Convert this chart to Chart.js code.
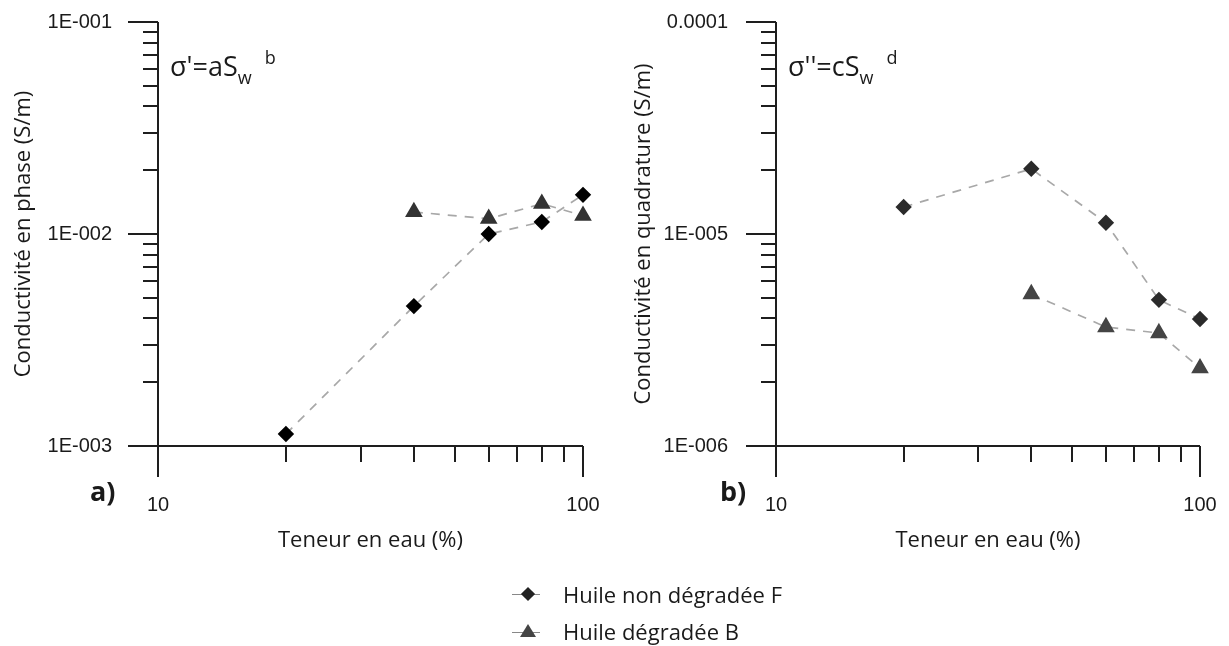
<!DOCTYPE html>
<html>
<head>
<meta charset="utf-8">
<script src="https://cdn.jsdelivr.net/npm/chart.js@4"></script>
<style>
  body { margin: 0; background: #fff; }
  #wrap { position: relative; width: 1229px; height: 646px; overflow: hidden; font-family: 'Open Sans', sans-serif; color: #1a1a1a; }
  canvas { position: absolute; top: 0; }
  .eq { position: absolute; top: 52px; font-size: 27px; line-height: 27px; white-space: nowrap; }
  .eq .sub { font-size: 18px; position: relative; top: 8px; }
  .eq .sup { font-size: 18px; position: relative; top: -12px; margin-left: 13px; }
  .panel { position: absolute; top: 477px; font-weight: bold; font-size: 27px; line-height: 27px; }
  .leg { position: absolute; left: 563px; font-size: 22px; line-height: 22px; white-space: nowrap; }
  .legline { position: absolute; left: 512px; width: 28px; height: 0; border-top: 1.5px solid #888; }
  .diamond { position: absolute; left: 523px; width: 10px; height: 10px; background: #222; transform: rotate(45deg); }
  .tri { position: absolute; left: 520px; width: 0; height: 0; border-left: 8px solid transparent; border-right: 8px solid transparent; border-bottom: 13px solid #444; }
</style>
</head>
<body>
<div id="wrap">
  <canvas id="chartA" width="615" height="600" style="left:0"></canvas>
  <canvas id="chartB" width="614" height="600" style="left:615px"></canvas>
  <div class="eq" style="left:170px">σ'=aS<span class="sub">w</span><span class="sup">b</span></div>
  <div class="eq" style="left:788px">σ''=cS<span class="sub">w</span><span class="sup">d</span></div>
  <div class="panel" style="left:90px">a)</div>
  <div class="panel" style="left:720px">b)</div>

  <div class="legline" style="top:594px"></div>
  <div class="diamond" style="top:589px"></div>
  <div class="leg" id="leg0" style="top:583px"></div>
  <div class="legline" style="top:632px"></div>
  <div class="tri" style="top:624px"></div>
  <div class="leg" id="leg1" style="top:620px"></div>
</div>
<script>
// water content (%) for each series
const waterF = [20, 40, 60, 80, 100];
const waterB = [40, 60, 80, 100];

// a) in-phase conductivity (S/m)
const phaseF = [0.00114, 0.00457, 0.0100, 0.0114, 0.0153];
const phaseB = [0.0127, 0.0118, 0.0139, 0.0122];

// b) quadrature conductivity (S/m)
const quadF = [1.34e-5, 2.03e-5, 1.13e-5, 4.89e-6, 3.97e-6];
const quadB = [5.21e-6, 3.64e-6, 3.41e-6, 2.33e-6];

const seriesNames = ['Huile non dégradée F', 'Huile dégradée B'];

const xTickValues = [10, 100];
const xTickLabels = ['10', '100'];
const yTickValuesA = [1e-3, 1e-2, 1e-1];
const yTickLabelsA = ['1E-003', '1E-002', '1E-001'];
const yTickValuesB = [1e-6, 1e-5, 1e-4];
const yTickLabelsB = ['1E-006', '1E-005', '0.0001'];

document.getElementById('leg0').textContent = seriesNames[0];
document.getElementById('leg1').textContent = seriesNames[1];

function isDecade(v) {
    const l = Math.log10(v);
    return Math.abs(l - Math.round(l)) < 1e-6;
}

function labelFor(values, labels) {
    return (value) => {
        const i = values.findIndex(v => Math.abs(Math.log10(v) - Math.log10(value)) < 1e-6);
        return i >= 0 ? labels[i] : '';
    };
}

// 1..9 x 10^n between min and max (chart.js v4 puts extra ones in the first decade)
function logTicks(scale) {
    const ticks = [];
    const e0 = Math.round(Math.log10(scale.min));
    const e1 = Math.round(Math.log10(scale.max));
    for (let e = e0; e < e1; e++) {
        for (let k = 1; k < 10; k++) ticks.push({ value: k * Math.pow(10, e) });
    }
    ticks.push({ value: Math.pow(10, e1) });
    scale.ticks = ticks;
}

// axis lines + ticks drawn outside, long ones on the decades
const axisTicks = {
    id: 'axisTicks',
    beforeDatasetsDraw(chart) {
        const { ctx, chartArea: a } = chart;
        const x = chart.scales.x, y = chart.scales.y;
        ctx.save();
        ctx.strokeStyle = '#1e1e1e';
        ctx.lineWidth = 2;
        ctx.beginPath();
        ctx.moveTo(a.left, a.top);
        ctx.lineTo(a.left, a.bottom + 31);
        ctx.moveTo(a.left - 30, a.bottom);
        ctx.lineTo(a.right, a.bottom);
        y.ticks.forEach(t => {
            const py = Math.round(y.getPixelForValue(t.value));
            const len = isDecade(t.value) ? 30 : 15;
            ctx.moveTo(a.left - len, py);
            ctx.lineTo(a.left, py);
        });
        x.ticks.forEach(t => {
            const px = Math.round(x.getPixelForValue(t.value));
            const len = isDecade(t.value) ? 31 : 16;
            ctx.moveTo(px, a.bottom);
            ctx.lineTo(px, a.bottom + len);
        });
        ctx.stroke();
        ctx.restore();
    }
};

function makeChart(id, o) {
    const tickFont = { family: 'Liberation Sans', size: 20 };
    const titleFont = { family: 'Open Sans', size: 22 };
    const line = {
        showLine: true,
        borderColor: '#a8a8a8',
        borderWidth: 1.7,
        borderDash: [9, 8],
        clip: false,
    };
    return new Chart(document.getElementById(id), {
        type: 'scatter',
        data: {
            datasets: [{
                ...line,
                label: seriesNames[0],
                data: waterF.map((w, i) => ({ x: w, y: o.f[i] })),
                pointStyle: 'rectRot',
                pointRadius: 7,
                pointBackgroundColor: o.colF,
                pointBorderColor: o.colF,
            }, {
                ...line,
                label: seriesNames[1],
                data: waterB.map((w, i) => ({ x: w, y: o.b[i] })),
                pointStyle: 'triangle',
                pointRadius: 8.5,
                pointBackgroundColor: o.colB,
                pointBorderColor: o.colB,
            }],
        },
        options: {
            responsive: false,
            animation: false,
            events: [],
            layout: { padding: { top: 22, right: o.padRight, left: 0, bottom: 0 } },
            plugins: { legend: { display: false }, tooltip: { enabled: false } },
            scales: {
                x: {
                    type: 'logarithmic',
                    min: 10,
                    max: 100,
                    // ticks are drawn by axisTicks, the length here only pushes the labels down
                    grid: { display: false, drawTicks: true, tickLength: 41 },
                    border: { display: false },
                    afterBuildTicks: logTicks,
                    ticks: {
                        autoSkip: false,
                        maxRotation: 0,
                        padding: 6,
                        color: '#1a1a1a',
                        font: tickFont,
                        callback: labelFor(xTickValues, xTickLabels),
                    },
                    title: {
                        display: true,
                        text: 'Teneur en eau (%)',
                        color: '#1a1a1a',
                        font: titleFont,
                        padding: { top: 0, bottom: 46 },
                    },
                    afterFit: (s) => { s.height = 600 - 446; },
                },
                y: {
                    type: 'logarithmic',
                    min: o.yMin,
                    max: o.yMax,
                    grid: { display: false, drawTicks: true, tickLength: 40 },
                    border: { display: false },
                    afterBuildTicks: logTicks,
                    ticks: {
                        autoSkip: false,
                        padding: o.labelPad,
                        color: '#1a1a1a',
                        font: tickFont,
                        callback: labelFor(o.yVals, o.yLabels),
                    },
                    title: {
                        display: true,
                        text: o.yTitle,
                        color: '#1a1a1a',
                        font: titleFont,
                        padding: { top: o.titlePad, bottom: 0 },
                    },
                    afterFit: (s) => { s.width = o.axisX; },
                },
            },
        },
        plugins: [axisTicks],
    });
}

makeChart('chartA', {
    f: phaseF, b: phaseB, colF: '#000000', colB: '#333333',
    yMin: 1e-3, yMax: 1e-1, yVals: yTickValuesA, yLabels: yTickLabelsA,
    yTitle: 'Conductivité en phase (S/m)',
    axisX: 158, padRight: 32, labelPad: 6, titlePad: 11,
});

makeChart('chartB', {
    f: quadF, b: quadB, colF: '#2b2b2b', colB: '#444444',
    yMin: 1e-6, yMax: 1e-4, yVals: yTickValuesB, yLabels: yTickLabelsB,
    yTitle: 'Conductivité en quadrature (S/m)',
    axisX: 161, padRight: 29, labelPad: 8, titlePad: 16,
});
</script>
</body>
</html>
